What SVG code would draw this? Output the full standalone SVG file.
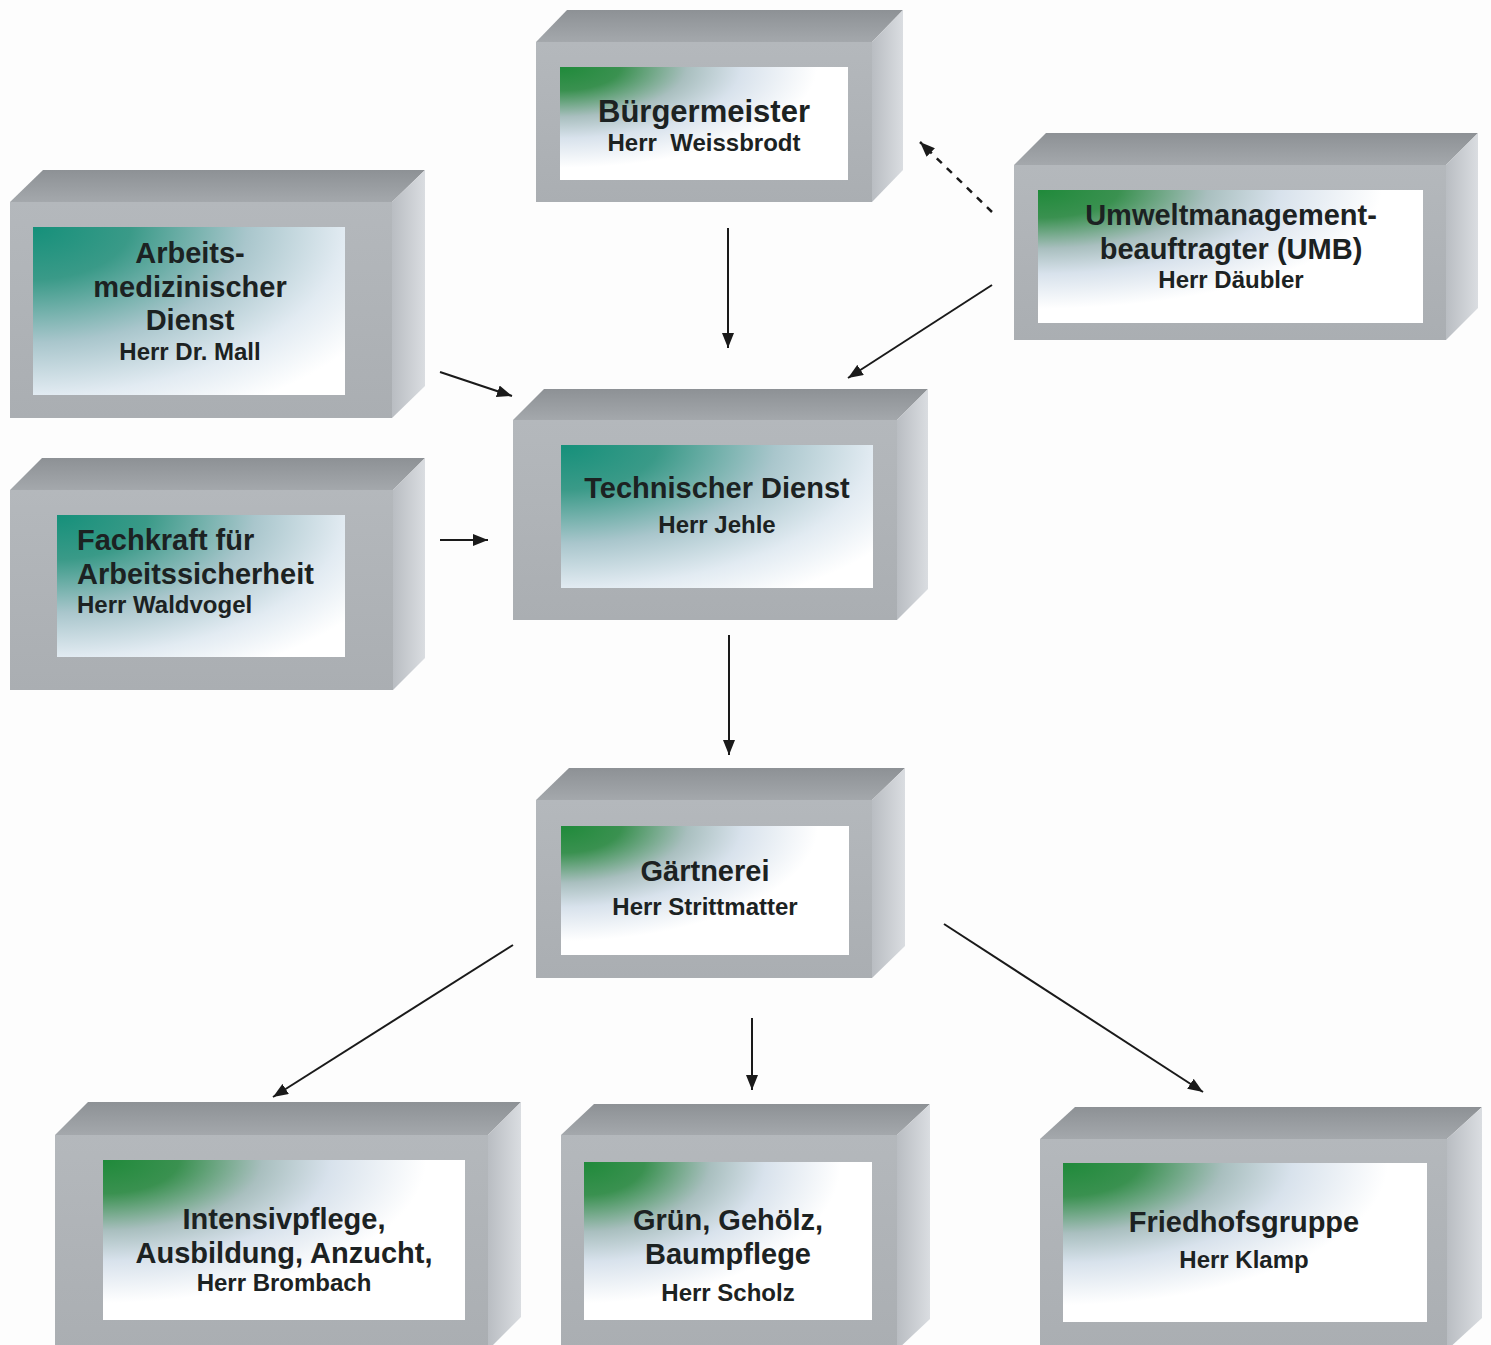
<svg xmlns="http://www.w3.org/2000/svg" width="1491" height="1345" viewBox="0 0 1491 1345">
<defs>
<style>
.front{fill:url(#gFront);}
.top{fill:url(#gTop);}
.side{fill:url(#gSide);}
.inG{fill:url(#gGreen);}
.inT{fill:url(#gTeal);}
text{font-family:"Liberation Sans",Arial,sans-serif;font-weight:bold;fill:#1c2222;}
.t1{font-size:29px;}
.t2{font-size:24px;}
.c{text-anchor:middle;}
.ln{stroke:#1a1a1a;stroke-width:2;fill:none;marker-end:url(#ah);}
.dash{stroke-dasharray:7,7;stroke-width:2.5;}
</style>
<linearGradient id="gFront" x1="0" y1="0" x2="0" y2="1">
<stop offset="0" stop-color="#b4b8bc"/>
<stop offset="1" stop-color="#aaaeb2"/>
</linearGradient>
<linearGradient id="gTop" x1="0" y1="0" x2="0" y2="1">
<stop offset="0" stop-color="#8d9195"/>
<stop offset="1" stop-color="#a4a8ac"/>
</linearGradient>
<linearGradient id="gSide" x1="0" y1="0" x2="1" y2="0">
<stop offset="0" stop-color="#b9bdc2"/>
<stop offset="1" stop-color="#dadde1"/>
</linearGradient>
<radialGradient id="gGreen" cx="0" cy="0" r="1.05" fx="0" fy="0">
<stop offset="0" stop-color="#1f8a3a"/>
<stop offset="0.2" stop-color="#3a9150"/>
<stop offset="0.42" stop-color="#a9bfbf"/>
<stop offset="0.6" stop-color="#d8e2ec"/>
<stop offset="0.85" stop-color="#ffffff"/>
<stop offset="1" stop-color="#ffffff"/>
</radialGradient>
<radialGradient id="gTeal" cx="0" cy="0" r="1.25" fx="0" fy="0">
<stop offset="0" stop-color="#15907a"/>
<stop offset="0.25" stop-color="#3a9a88"/>
<stop offset="0.55" stop-color="#a9c6cc"/>
<stop offset="0.8" stop-color="#e2ebf2"/>
<stop offset="1" stop-color="#ffffff"/>
</radialGradient>
<marker id="ah" markerUnits="userSpaceOnUse" markerWidth="16" markerHeight="12" refX="15" refY="6" orient="auto">
<path d="M0,0 L15,6 L0,12 z" fill="#1a1a1a"/>
</marker>
</defs>
<rect x="0" y="0" width="1491" height="1345" fill="#fdfdfd"/>

<g id="connectors">
<line class="ln" x1="728" y1="228" x2="728" y2="348"/>
<line class="ln dash" x1="992" y1="212" x2="920" y2="142"/>
<line class="ln" x1="992" y1="285" x2="848" y2="378"/>
<line class="ln" x1="440" y1="372" x2="512" y2="396"/>
<line class="ln" x1="440" y1="540" x2="488" y2="540"/>
<line class="ln" x1="729" y1="635" x2="729" y2="755"/>
<line class="ln" x1="513" y1="945" x2="273" y2="1097"/>
<line class="ln" x1="752" y1="1018" x2="752" y2="1090"/>
<line class="ln" x1="944" y1="924" x2="1203" y2="1092"/>
</g>

<g id="buergermeister">
<polygon class="top" points="536,42 567,10 903,10 872,42"/>
<polygon class="side" points="872,42 903,10 903,170 872,202"/>
<rect class="front" x="536" y="42" width="336" height="160"/>
<rect class="inG" x="560" y="67" width="288" height="113"/>
<text class="c" x="704" y="122" style="font-size:31px">Bürgermeister</text>
<text class="c t2" x="704" y="151">Herr&#160; Weissbrodt</text>
</g>

<g id="arbeitsmedizin">
<polygon class="top" points="10,202 43,170 425,170 392,202"/>
<polygon class="side" points="392,202 425,170 425,386 392,418"/>
<rect class="front" x="10" y="202" width="382" height="216"/>
<rect class="inT" x="33" y="227" width="312" height="168"/>
<text class="c t1" x="190" y="263">Arbeits-</text>
<text class="c t1" x="190" y="297">medizinischer</text>
<text class="c t1" x="190" y="330">Dienst</text>
<text class="c t2" x="190" y="360">Herr Dr. Mall</text>
</g>

<g id="umwelt">
<polygon class="top" points="1014,165 1046,133 1478,133 1446,165"/>
<polygon class="side" points="1446,165 1478,133 1478,308 1446,340"/>
<rect class="front" x="1014" y="165" width="432" height="175"/>
<rect class="inG" x="1038" y="190" width="385" height="133"/>
<text class="c t1" x="1231" y="225">Umweltmanagement-</text>
<text class="c t1" x="1231" y="259">beauftragter (UMB)</text>
<text class="c t2" x="1231" y="288">Herr Däubler</text>
</g>

<g id="technischer-dienst">
<polygon class="top" points="513,420 544,389 928,389 897,420"/>
<polygon class="side" points="897,420 928,389 928,589 897,620"/>
<rect class="front" x="513" y="420" width="384" height="200"/>
<rect class="inT" x="561" y="445" width="312" height="143"/>
<text class="c t1" x="717" y="498">Technischer Dienst</text>
<text class="c t2" x="717" y="533">Herr Jehle</text>
</g>

<g id="fachkraft">
<polygon class="top" points="10,490 42,458 425,458 393,490"/>
<polygon class="side" points="393,490 425,458 425,658 393,690"/>
<rect class="front" x="10" y="490" width="383" height="200"/>
<rect class="inT" x="57" y="515" width="288" height="142"/>
<text class="t1" x="77" y="550">Fachkraft für</text>
<text class="t1" x="77" y="584">Arbeitssicherheit</text>
<text class="t2" x="77" y="613">Herr Waldvogel</text>
</g>

<g id="gaertnerei">
<polygon class="top" points="536,800 569,768 905,768 872,800"/>
<polygon class="side" points="872,800 905,768 905,946 872,978"/>
<rect class="front" x="536" y="800" width="336" height="178"/>
<rect class="inG" x="561" y="826" width="288" height="129"/>
<text class="c t1" x="705" y="881">Gärtnerei</text>
<text class="c t2" x="705" y="915">Herr Strittmatter</text>
</g>

<g id="intensivpflege">
<polygon class="top" points="55,1135 88,1102 521,1102 488,1135"/>
<polygon class="side" points="488,1135 521,1102 521,1317 488,1350"/>
<rect class="front" x="55" y="1135" width="433" height="215"/>
<rect class="inG" x="103" y="1160" width="362" height="160"/>
<text class="c t1" x="284" y="1229">Intensivpflege,</text>
<text class="c t1" x="284" y="1263">Ausbildung, Anzucht,</text>
<text class="c t2" x="284" y="1291">Herr Brombach</text>
</g>

<g id="gruen">
<polygon class="top" points="561,1135 594,1104 930,1104 897,1135"/>
<polygon class="side" points="897,1135 930,1104 930,1319 897,1350"/>
<rect class="front" x="561" y="1135" width="336" height="215"/>
<rect class="inG" x="584" y="1162" width="288" height="158"/>
<text class="c t1" x="728" y="1230">Grün, Gehölz,</text>
<text class="c t1" x="728" y="1264">Baumpflege</text>
<text class="c t2" x="728" y="1301">Herr Scholz</text>
</g>

<g id="friedhof">
<polygon class="top" points="1040,1139 1075,1107 1482,1107 1447,1139"/>
<polygon class="side" points="1447,1139 1482,1107 1482,1318 1447,1350"/>
<rect class="front" x="1040" y="1139" width="407" height="211"/>
<rect class="inG" x="1063" y="1163" width="364" height="159"/>
<text class="c t1" x="1244" y="1232">Friedhofsgruppe</text>
<text class="c t2" x="1244" y="1268">Herr Klamp</text>
</g>
</svg>
